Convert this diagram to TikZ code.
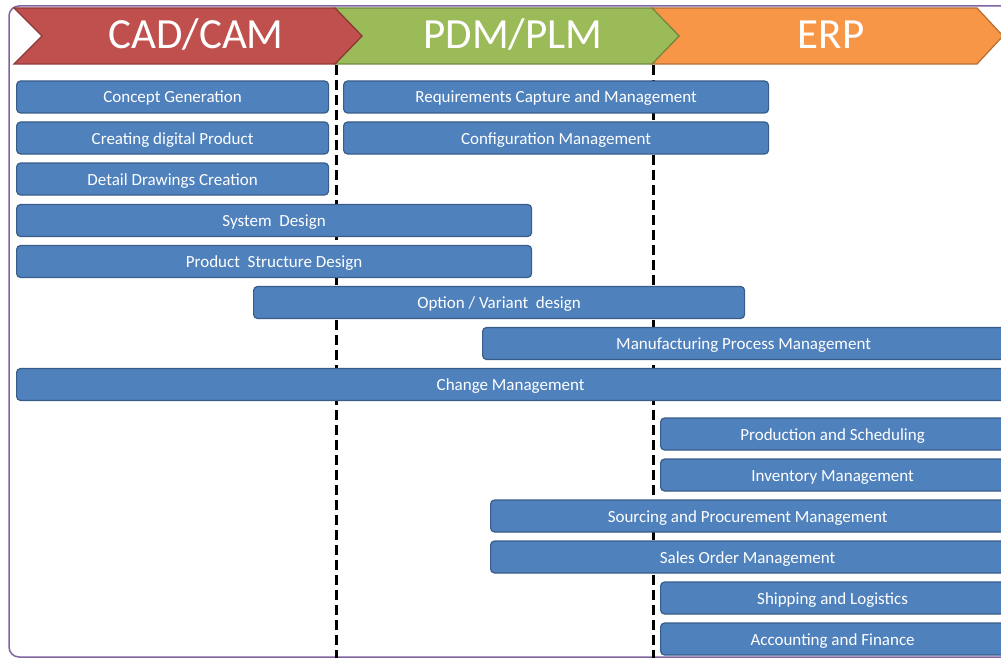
\documentclass[tikz,border=0pt]{standalone}
\usepackage{fontspec}
\setmainfont{Carlito}
\usepackage{tikz}

\definecolor{barblue}{RGB}{79,129,189}
\definecolor{barline}{RGB}{56,93,138}
\definecolor{camred}{RGB}{192,80,77}
\definecolor{camline}{RGB}{140,56,54}
\definecolor{plmgreen}{RGB}{155,187,89}
\definecolor{plmline}{RGB}{113,137,63}
\definecolor{erporange}{RGB}{247,150,70}
\definecolor{erpline}{RGB}{182,109,49}
\definecolor{framepurple}{RGB}{128,100,162}

\begin{document}
\begin{tikzpicture}[x=1pt,y=-1pt,
  bar/.style={draw=barline, fill=barblue, line width=1.2pt, rounded corners=4pt,
    anchor=west, inner sep=0pt, minimum height=32pt, text=white,
    text height=12pt, text depth=0pt, font=\fontsize{17}{19}\selectfont},
  phase/.style={anchor=base, text=white, font=\fontsize{43}{50}\selectfont},
  border/.style={line width=1.2pt},
  sep/.style={black, line width=3pt, dash pattern=on 10pt off 5pt}]
\useasboundingbox (0,0) rectangle (1001,658);
\clip (0,0) rectangle (1001,658);

% frame
\draw[framepurple, line width=1.5pt, rounded corners=10pt] (9,6) rectangle (1040,657);

% phase headers
\draw[border, fill=erporange, draw=erpline] (652,8) -- (977,8) -- (1003,36) -- (977,64) -- (652,64) -- (679,36) -- cycle;
\draw[border, fill=plmgreen, draw=plmline] (335,8) -- (652,8) -- (679,36) -- (652,64) -- (335,64) -- (362,36) -- cycle;
\draw[border, fill=camred, draw=camline] (14,8) -- (335,8) -- (362,36) -- (335,64) -- (14,64) -- (42,36) -- cycle;
\node[phase] (cad) at (196,49) {CAD/CAM};
\node[phase] (pdm) at (513,49) {PDM/PLM};
\node[phase] (erp) at (831,49) {ERP};

% phase borders
\draw[sep] (336,65) -- (336,660);
\draw[sep] (653,65) -- (653,660);

% activities
\node[bar, minimum width=312] (concept) at (16,97) {Concept Generation};
\node[bar, minimum width=312] (digital) at (16,138) {Creating digital Product};
\node[bar, minimum width=312] (drawings) at (16,179) {Detail Drawings Creation};
\node[bar, minimum width=515] (system) at (16,220.5) {System\ \ Design};
\node[bar, minimum width=515] (structure) at (16,261.5) {Product\ \ Structure Design};
\node[bar, minimum width=491] (variant) at (253,302.5) {Option / Variant\ \ design};
\node[bar, minimum width=522] (mpm) at (482,343.5) {Manufacturing Process Management};
\node[bar, minimum width=988] (change) at (16,384.5) {Change Management};

\node[bar, minimum width=425] (require) at (343,97) {Requirements Capture and Management};
\node[bar, minimum width=425] (config) at (343,138) {Configuration Management};

\node[bar, minimum width=344] (production) at (660,434) {Production and Scheduling};
\node[bar, minimum width=344] (inventory) at (660,475) {Inventory Management};
\node[bar, minimum width=514] (sourcing) at (490,516) {Sourcing and Procurement Management};
\node[bar, minimum width=514] (sales) at (490,557) {Sales Order Management};
\node[bar, minimum width=344] (shipping) at (660,598) {Shipping and Logistics};
\node[bar, minimum width=344] (accounting) at (660,639) {Accounting and Finance};
\end{tikzpicture}
\end{document}
